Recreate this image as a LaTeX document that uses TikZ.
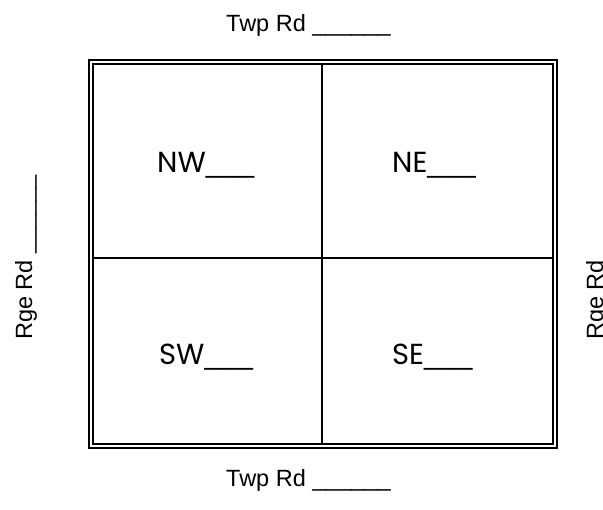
\documentclass[tikz,border=0pt]{standalone}
\usepackage{fontspec}
\setmainfont{Liberation Sans}
\newfontfamily\gothic{Poppins}
\newcommand{\gl}[1]{{\gothic #1}\_\_\_}
\tikzset{
  road/.style={inner sep=0pt, font=\fontsize{23.5}{26}\selectfont},
  cell/.style={inner sep=0pt, anchor=base west, font=\fontsize{29}{32}\selectfont},
  outerline/.style={line width=2.2pt},
  innerline/.style={line width=1.8pt},
  divline/.style={line width=2.2pt}
}
\begin{document}
\begin{tikzpicture}[x=1pt,y=-1pt]
\useasboundingbox (0,0) rectangle (603,510);
\draw[outerline] (89,60) rectangle (557,448);
\draw[innerline] (93,64) rectangle (553,444);
\coordinate (vt) at (322,64);
\coordinate (vb) at (322,444);
\coordinate (hl) at (93,258);
\coordinate (hr) at (553,258);
\draw[divline] (vt) -- (vb);
\draw[divline] (hl) -- (hr);
\node[road, anchor=base west] (top) at (226,32) {Twp Rd \_\_\_\_\_\_};
\node[road, anchor=base west] (bottom) at (226,487) {Twp Rd \_\_\_\_\_\_};
\node[road, anchor=base west, rotate=90] (left) at (32,340) {Rge Rd \_\_\_\_\_\_};
\node[road, anchor=base west, rotate=90] (right) at (603,340) {Rge Rd \_\_\_\_\_\_};
\node[cell] (nw) at (157,173) {\gl{NW}};
\node[cell] (ne) at (392,173) {\gl{NE}};
\node[cell] (sw) at (159,365) {\gl{SW}};
\node[cell] (se) at (392,365) {\gl{SE}};
\end{tikzpicture}
\end{document}
